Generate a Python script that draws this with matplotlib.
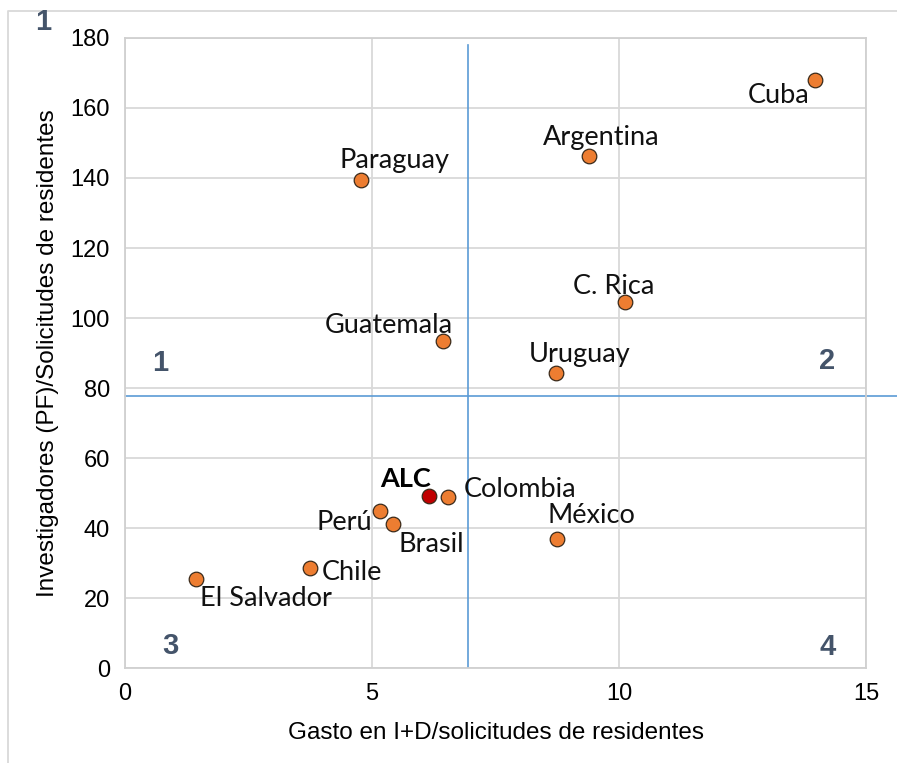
import matplotlib.pyplot as plt
from matplotlib.lines import Line2D

# data: gasto en I+D / solicitudes vs investigadores / solicitudes
paises = ['Cuba', 'Argentina', 'Paraguay', 'C. Rica', 'Guatemala', 'Uruguay',
          'Colombia', 'Perú', 'Brasil', 'México', 'Chile', 'El Salvador']
gasto = [13.97, 9.39, 4.78, 10.12, 6.44, 8.72, 6.54, 5.16, 5.43, 8.74, 3.74, 1.44]
investigadores = [168.0, 146.3, 139.4, 104.6, 93.4, 84.3, 48.9, 44.9, 41.1, 36.9, 28.6, 25.4]
alc_x, alc_y = 6.15, 49.1
media_x, media_y = 6.94, 77.7

# label offsets (points) and alignment
offsets = {'Cuba': (-4, -11.5, 'right'), 'Argentina': (9, 13, 'center'),
           'Paraguay': (24, 14, 'center'), 'C. Rica': (-8, 11, 'center'),
           'Guatemala': (-39, 11.5, 'center'), 'Uruguay': (17, 13, 'center'),
           'Colombia': (11, 5, 'left'), 'México': (25, 16.5, 'center'),
           'Perú': (-6, -8.6, 'right'), 'Brasil': (27, -15, 'center'),
           'Chile': (8.6, -3.6, 'left'), 'El Salvador': (3, -14, 'left')}

fig = plt.figure(figsize=(8.97, 7.63), dpi=100)
ax = fig.add_axes([0.1394, 0.1245, 0.8262, 0.8257])

ax.set_xlim(0, 15)
ax.set_ylim(0, 180)
ax.set_xticks([0, 5, 10, 15])
ax.set_yticks(range(0, 181, 20))
ax.grid(True, color='#D9D9D9', lw=1.3)
ax.set_axisbelow(True)
for s in ax.spines.values():
    s.set_color('#D0D0D0')
    s.set_linewidth(1.3)
ax.tick_params(length=0, labelsize=17, pad=11)
for t in ax.get_xticklabels() + ax.get_yticklabels():
    t.set_family('Liberation Sans')

ax.set_xlabel('Gasto en I+D/solicitudes de residentes', fontsize=17.5,
              family='Liberation Sans', labelpad=12)
ax.set_ylabel('Investigadores (PF)/Solicitudes de residentes', fontsize=17.5,
              family='Liberation Sans', labelpad=8)

# quadrant lines
ax.plot([media_x, media_x], [0, 178], color='#5B9BD5', lw=1.2, zorder=2)
ax.plot([0, 15.63], [media_y, media_y], color='#5B9BD5', lw=1.2, zorder=2, clip_on=False)

ax.plot(gasto, investigadores, 'o', ms=10.5, mfc='#ED7D31', mec='#3A2A1A', mew=0.9, zorder=3)
ax.plot([alc_x], [alc_y], 'o', ms=10.5, mfc='#C00000', mec='#3A2A1A', mew=0.9, zorder=3)

for p, x, y in zip(paises, gasto, investigadores):
    dx, dy, ha = offsets[p]
    ax.annotate(p, (x, y), xytext=(dx, dy), textcoords='offset points',
                ha=ha, va='center', fontsize=19.5, family='Lato', color='#111111')
ax.annotate('ALC', (alc_x, alc_y), xytext=(-17, 12), textcoords='offset points',
            ha='center', va='center', fontsize=19.5, family='Lato', weight='bold')

# quadrant numbers
qcol = '#44546A'
for txt, fx, fy in [('1', 43, 22), ('1', 160, 363), ('2', 827, 361), ('3', 170, 646), ('4', 828, 647)]:
    fig.text(fx / 897, 1 - fy / 763, txt, ha='center', va='center', fontsize=21,
             weight='bold', color=qcol, family='Liberation Sans')

# outer chart border (left and top)
fig.add_artist(Line2D([8 / 897, 8 / 897, 1], [0, 1 - 11 / 763, 1 - 11 / 763],
                      transform=fig.transFigure, color='#D9D9D9', lw=1.3))

fig.savefig('out.png', dpi=100)
